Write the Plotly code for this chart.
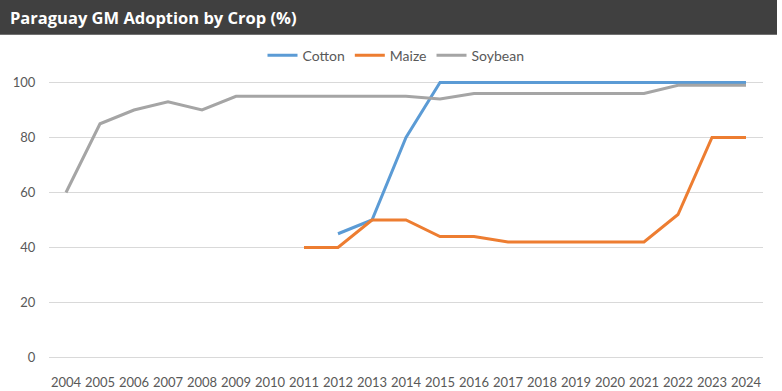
import plotly.graph_objects as go

years = [str(y) for y in range(2004, 2025)]
cotton = [None]*8 + [45, 50, 80, 100, 100, 100, 100, 100, 100, 100, 100, 100, 100]
maize = [None]*7 + [40, 40, 50, 50, 44, 44, 42, 42, 42, 42, 42, 52, 80, 80]
soybean = [60, 85, 90, 93, 90, 95, 95, 95, 95, 95, 95, 94, 96, 96, 96, 96, 96, 96, 99, 99, 99]
y_ticks = [0, 20, 40, 60, 80, 100]

series = [("Cotton", cotton, "#5B9BD5"), ("Maize", maize, "#ED7D31"), ("Soybean", soybean, "#A5A5A5")]

fig = go.Figure()
for name, vals, col in series:
    fig.add_trace(go.Scatter(x=years, y=vals, name=name, mode="lines",
                             line=dict(color=col, width=3), connectgaps=False))

W, H = 782, 391
ml, mr, mt, mb = 49, 19, 76.5, 27.5
pw, ph = W - ml - mr, H - mt - mb

fig.update_layout(
    width=W, height=H,
    margin=dict(l=ml, r=mr, t=mt, b=mb, autoexpand=False),
    paper_bgcolor="white", plot_bgcolor="white",
    font=dict(family="Lato, Carlito, sans-serif", size=13, color="#595959"),
    showlegend=True,
    legend=dict(orientation="h", x=(396 - ml) / pw, xanchor="center", y=1 + (mt - 55) / ph, yanchor="middle",
                font=dict(size=14, color="#595959"), itemwidth=30, traceorder="normal"),
    xaxis=dict(type="category", range=[-0.5, 20.5], showgrid=False, showline=False,
               ticks="outside", ticklen=7, tickcolor="rgba(0,0,0,0)",
               tickfont=dict(size=13, color="#595959")),
    yaxis=dict(range=[-2, 102], tickvals=y_ticks, showgrid=True, gridcolor="#D9D9D9", gridwidth=1,
               zeroline=False, showline=False, ticks="outside", ticklen=10, tickcolor="rgba(0,0,0,0)",
               tickfont=dict(size=13, color="#595959")),
    shapes=[dict(type="rect", xref="paper", yref="paper",
                 x0=-ml / pw - 0.01, x1=1 + (mr - 5) / pw,
                 y0=1 + (mt - 34) / ph, y1=1 + mt / ph + 0.01,
                 fillcolor="#404040", line=dict(width=0), layer="below")],
    annotations=[dict(text="<b>Paraguay GM Adoption by Crop (%)</b>", xref="paper", yref="paper",
                      x=(8 - ml) / pw, xanchor="left", y=1 + (mt - 17) / ph, yanchor="middle",
                      showarrow=False, font=dict(family="Open Sans, sans-serif", size=16.5, color="white"))],
)

fig.write_html("out.html", config={"displayModeBar": False},
               post_script="document.body.style.margin='0';document.body.style.overflow='hidden';")
